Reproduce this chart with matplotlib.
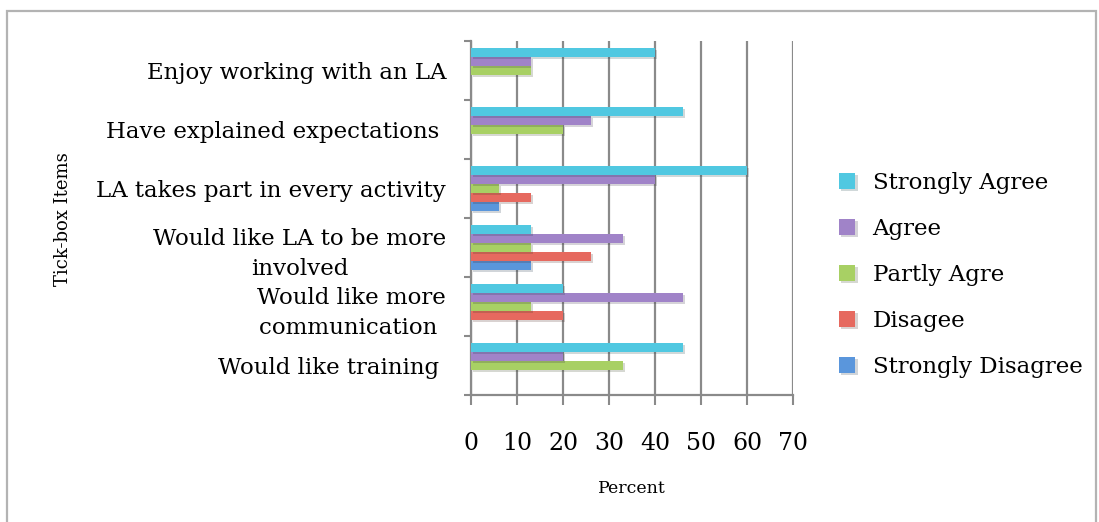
import numpy as np
import matplotlib
matplotlib.use("Agg")
import matplotlib.pyplot as plt
import matplotlib.patheffects as pe
from matplotlib.patches import Rectangle

# Survey items, bottom to top as drawn on the y axis
items = [
    "Would like training ",
    "Would like more\ncommunication ",
    "Would like LA to be more\ninvolved",
    "LA takes part in every activity",
    "Have explained expectations ",
    "Enjoy working with an LA",
]

# Percent responding per item (same order as items)
strongly_disagree = [0, 0, 13, 6, 0, 0]
disagree = [0, 20, 26, 13, 0, 0]
partly_agree = [33, 13, 13, 6, 20, 13]
agree = [20, 46, 33, 40, 26, 13]
strongly_agree = [46, 20, 13, 60, 46, 40]

series = [
    ("Strongly Disagree", strongly_disagree, "#5A96DC"),
    ("Disagee", disagree, "#E6695F"),
    ("Partly Agre", partly_agree, "#A8D064"),
    ("Agree", agree, "#A083C8"),
    ("Strongly Agree", strongly_agree, "#50C8E1"),
]

x_ticks = [0, 10, 20, 30, 40, 50, 60, 70]

plt.rcParams["font.family"] = ["DejaVu Serif"]

fig = plt.figure(figsize=(10.99, 5.22), dpi=100)
fig.patches.append(Rectangle((0.0065, -0.1), 0.991, 1.079, transform=fig.transFigure,
                             fill=False, edgecolor="#b3b3b3", linewidth=1.6))
ax = fig.add_axes([0.4286, 0.2433, 0.2930, 0.6782])

ypos = np.arange(len(items))
bar_h = 0.152
shadow = [pe.SimplePatchShadow(offset=(1.5, -1.5), alpha=0.2), pe.Normal()]
for i, (name, vals, color) in enumerate(series):
    bars = ax.barh(ypos + (i - 2) * bar_h, vals, height=bar_h, color=color,
                   label=name, zorder=3)
    for b in bars:
        b.set_path_effects(shadow)

ax.set_xlim(0, 70)
ax.set_ylim(-0.5, len(items) - 0.5)
ax.set_xticks(x_ticks)
ax.set_xticklabels([str(t) for t in x_ticks], fontsize=17)
ax.set_yticks(ypos)
ax.set_yticklabels(items, fontsize=16.5, multialignment="center", linespacing=1.45)
ax.set_yticks(np.arange(-0.5, len(items)), minor=True)
ax.tick_params(axis="y", which="major", length=0, pad=18)
ax.tick_params(axis="y", which="minor", length=5, width=1.5, color="#8a8a8a")
ax.tick_params(axis="x", length=7, width=1.5, color="#8a8a8a", pad=20)

ax.grid(axis="x", color="#8a8a8a", linewidth=1.6, zorder=0)
for s in ["top", "right"]:
    ax.spines[s].set_visible(False)
for s in ["left", "bottom"]:
    ax.spines[s].set_color("#8a8a8a")
    ax.spines[s].set_linewidth(1.6)

ax.set_xlabel("Percent", fontsize=12.5, labelpad=18)
fig.text(0.057, 0.58, "Tick-box Items", rotation=90, fontsize=13, ha="center", va="center")

handles, labels = ax.get_legend_handles_labels()
leg = fig.legend(handles[::-1], labels[::-1], loc="center left",
                 bbox_to_anchor=(0.745, 0.473), frameon=False, fontsize=16.5,
                 handlelength=0.7, handleheight=0.7, handletextpad=0.75,
                 labelspacing=1.05)

fig.savefig("out.png", dpi=100)
